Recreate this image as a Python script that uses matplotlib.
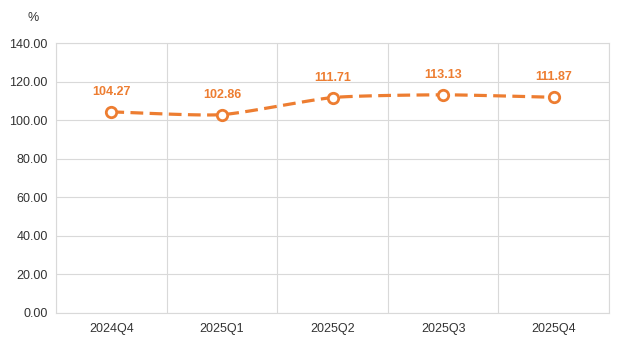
import matplotlib.pyplot as plt
import numpy as np

plt.rcParams['font.family'] = ['Liberation Sans', 'DejaVu Sans']

quarters = ['2024Q4', '2025Q1', '2025Q2', '2025Q3', '2025Q4']
values = [104.27, 102.86, 111.71, 113.13, 111.87]
yticks = [0, 20, 40, 60, 80, 100, 120, 140]

orange = '#ED7D31'
grid_c = '#d9d9d9'


def smooth(x, y, n=30):
    # catmull-rom style curve through the points
    x = np.asarray(x, float)
    y = np.asarray(y, float)
    px = np.concatenate([[2 * x[0] - x[1]], x, [2 * x[-1] - x[-2]]])
    py = np.concatenate([[2 * y[0] - y[1]], y, [2 * y[-1] - y[-2]]])
    xs, ys = [], []
    t = np.linspace(0, 1, n)
    for i in range(1, len(px) - 2):
        for p, out in ((px, xs), (py, ys)):
            p0, p1, p2, p3 = p[i - 1], p[i], p[i + 1], p[i + 2]
            m1 = (p2 - p0) / 2 * 0.6
            m2 = (p3 - p1) / 2 * 0.6
            h00 = 2 * t**3 - 3 * t**2 + 1
            h10 = t**3 - 2 * t**2 + t
            h01 = -2 * t**3 + 3 * t**2
            h11 = t**3 - t**2
            out.extend(h00 * p1 + h10 * m1 + h01 * p2 + h11 * m2)
    return np.array(xs), np.array(ys)


fig = plt.figure(figsize=(6.21, 3.46), dpi=100)
ax = fig.add_axes([0.0902, 0.0954, 0.8905, 0.7803])

x = np.arange(len(quarters))
sx, sy = smooth(x, values)
ax.plot(sx, sy, color=orange, lw=2.3, ls=(0, (4, 2)), solid_capstyle='butt', zorder=3)
ax.plot(x, values, ls='none', marker='o', ms=7.5, mfc='white', mec=orange, mew=2, zorder=4)

for xi, v in zip(x, values):
    ax.annotate(f'{v:.2f}', (xi, v), xytext=(0, 10), textcoords='offset points',
                ha='center', va='bottom', color=orange, fontsize=9, fontweight='bold')

ax.set_xlim(-0.5, len(quarters) - 0.5)
ax.set_ylim(0, 140)
ax.set_yticks(yticks)
ax.set_yticklabels([f'{t:.2f}' for t in yticks])
ax.set_xticks(x)
ax.set_xticklabels(quarters)
ax.set_xticks(np.arange(-0.5, len(quarters)), minor=True)

ax.grid(axis='y', color=grid_c, lw=0.8)
ax.grid(axis='x', which='minor', color=grid_c, lw=0.8)
for s in ax.spines.values():
    s.set_color(grid_c)
    s.set_linewidth(0.8)
ax.tick_params(which='both', length=0)
ax.tick_params(axis='y', pad=6, labelsize=9, labelcolor='#333333')
ax.tick_params(axis='x', pad=7, labelsize=9, labelcolor='#333333')

fig.text(33 / 621, 1 - 18 / 346, '%', ha='center', va='center', fontsize=9, color='#333333')

fig.savefig('out.png', dpi=100)
